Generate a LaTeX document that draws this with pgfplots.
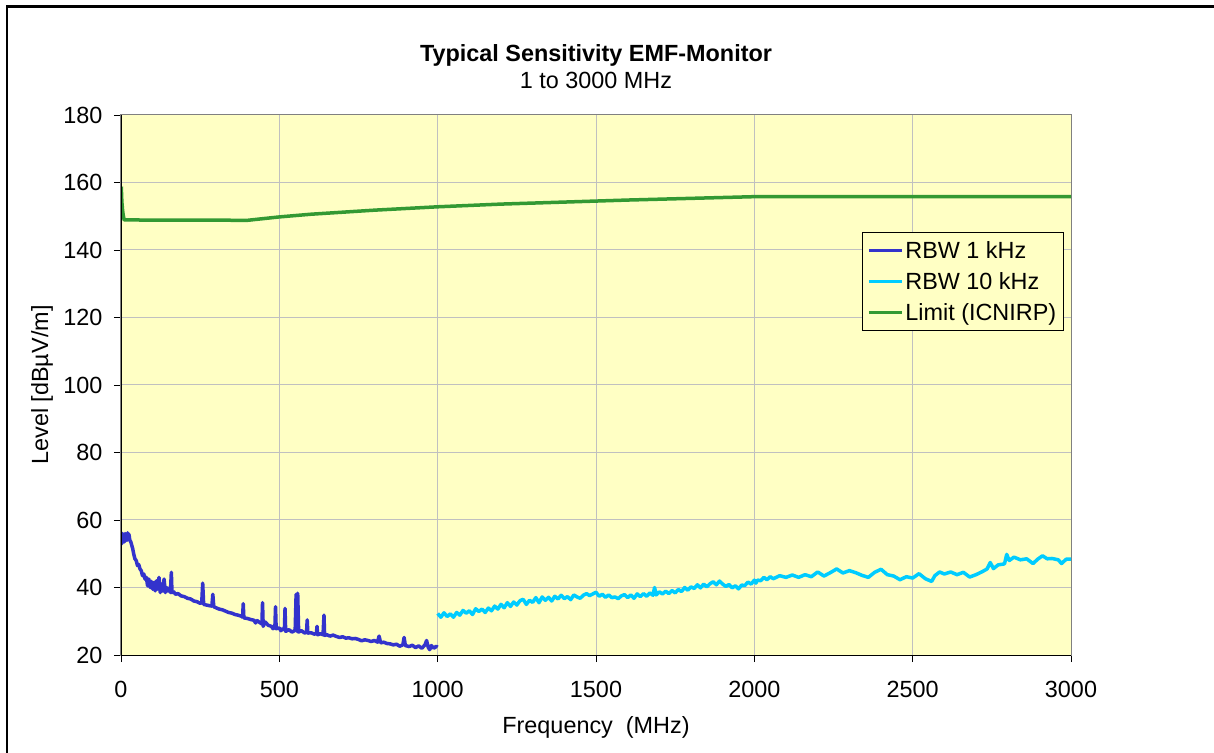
\documentclass[border=0pt]{standalone}
\usepackage{pgfplots}
\pgfplotsset{compat=1.18}
\usepackage{fontspec}
\setmainfont{Liberation Sans}
\definecolor{bgyellow}{RGB}{255,255,196}
\definecolor{cblue}{RGB}{51,51,204}
\definecolor{ccyan}{RGB}{0,204,255}
\definecolor{cgreen}{RGB}{51,153,51}
\definecolor{gridgray}{RGB}{192,192,192}
\begin{document}
\begin{tikzpicture}[font=\fontsize{23.4bp}{28bp}\selectfont]
\begin{axis}[
  name=ax,
  width=950bp, height=540bp, scale only axis,
  xmin=0, xmax=3000, ymin=20, ymax=180,
  xtick={0,500,...,3000}, ytick={20,40,...,180},
  /pgf/number format/assume math mode=true,
  /pgf/number format/set thousands separator={},
  tick pos=left, tick align=outside,
  major tick length=7bp,
  tick style={black, line width=0.8bp},
  xticklabel style={yshift=-16bp},
  yticklabel style={xshift=-8bp},
  grid=major,
  major grid style={gridgray, line width=1bp},
  axis background/.style={fill=bgyellow},
  axis line style={draw=gray, line width=1bp},
  every axis y label/.style={at={(axis description cs:-0.0832,0.5)}, rotate=90, anchor=center},
  every axis x label/.style={at={(axis description cs:0.5,-0.135)}, anchor=center},
  xlabel={Frequency\ \ (MHz)},
  ylabel={Level [dBµV/m]},
  legend cell align=left,
  legend style={at={(axis description cs:0.78,0.783)}, anchor=north west,
    fill=bgyellow, draw=black, line width=0.8bp, inner xsep=5bp, inner ysep=7bp, row sep=8.5bp,
    font=\fontsize{23.4bp}{28bp}\selectfont},
  legend image code/.code={\draw[#1, line width=3bp] (0bp,0bp) -- (33bp,0bp);},
]
\addplot[cblue, line width=3.5bp, line join=round] coordinates {
(1,55.5)(3,53.0)(5,56.0)(7,54.0)(9,55.5)(11,53.5)(13,56.0)(15,54.5)(17,55.8)(19,54.0)
(21,56.2)(23,55.0)(25,55.8)(28,54.0)(31,53.5)(34,52.5)(37,51.5)(40,50.0)(44,48.5)(48,48.0)
(52,46.5)(56,46.8)(60,45.5)(64,45.0)(68,43.5)(72,44.0)(76,42.5)(80,43.0)(84,40.5)(88,42.5)
(92,40.0)(96,41.8)(100,39.5)(104,41.5)(108,39.0)(112,42.0)(116,39.5)(120,43.0)(124,38.5)(128,41.0)
(132,39.0)(136,42.5)(140,38.5)(144,40.0)(148,39.0)(152,39.8)(156,38.5)(159,44.5)(161,38.5)(166,38.8)
(172,38.0)(180,38.2)(190,37.5)(200,37.3)(210,36.8)(220,36.6)(230,36.0)(240,35.8)(250,35.3)(255,35.5)
(258,41.3)(261,35.0)(270,34.8)(280,34.6)(287,34.5)(290,38.0)(293,34.3)(300,34.0)(310,33.6)(320,33.4)
(330,33.0)(340,32.6)(350,32.4)(360,32.0)(370,31.8)(380,31.5)(384,31.2)(386,35.2)(388,31.0)(400,30.8)
(410,30.5)(420,30.3)(425,29.5)(430,30.2)(440,29.5)(445,29.2)(447,35.5)(449,28.5)(455,29.8)(465,28.8)
(475,28.5)(480,27.8)(486,28.3)(488,34.3)(490,27.8)(500,28.0)(505,27.2)(510,27.8)(516,27.5)(518,33.8)
(520,27.0)(530,27.5)(540,26.8)(550,27.3)(553,38.0)(556,27.0)(558,38.3)(561,26.8)(570,27.2)(580,26.5)
(586,26.8)(588,30.4)(590,26.5)(600,26.6)(610,26.2)(617,26.3)(619,28.5)(621,26.0)(630,26.3)(638,26.0)
(641,31.8)(643,25.8)(650,26.0)(660,25.6)(670,25.9)(680,25.5)(690,25.2)(700,25.4)(710,25.0)(720,25.1)
(730,24.8)(740,24.9)(750,24.6)(760,24.2)(770,24.5)(780,24.3)(790,24.0)(800,24.3)(810,23.8)(815,25.6)
(820,23.6)(830,23.8)(840,23.4)(850,23.3)(860,23.0)(870,23.2)(880,22.6)(890,23.0)(894,25.2)(898,22.8)
(910,22.5)(920,22.9)(930,22.2)(940,22.7)(950,22.0)(960,23.0)(965,24.3)(970,22.3)(975,21.6)(980,22.8)
(988,22.0)(995,22.6)(1000,22.3)
};
\addlegendentry{RBW 1 kHz}
\addplot[ccyan, line width=3.5bp, line join=round] coordinates {
(1000,32.3)(1010,31.2)(1020,32.5)(1030,31.4)(1040,32.2)(1050,31.2)(1060,32.6)(1070,31.8)(1080,33.2)(1090,32.4)
(1100,33.1)(1110,32.0)(1120,33.7)(1130,32.9)(1140,33.6)(1150,32.6)(1160,33.9)(1170,33.1)(1180,34.5)(1190,33.6)
(1200,35.0)(1210,34.0)(1220,35.5)(1230,34.4)(1240,35.7)(1250,34.8)(1260,36.1)(1270,36.5)(1280,35.0)(1290,36.2)
(1300,35.6)(1310,37.0)(1320,35.5)(1330,37.2)(1340,36.2)(1350,37.1)(1360,36.0)(1370,37.4)(1380,36.6)(1390,37.7)
(1400,36.7)(1410,37.3)(1420,36.4)(1430,37.8)(1440,37.2)(1450,36.8)(1460,37.7)(1470,38.2)(1480,37.6)(1490,38.1)
(1500,38.6)(1510,37.4)(1520,38.0)(1530,37.1)(1540,37.8)(1550,37.0)(1560,37.2)(1570,36.7)(1580,37.5)(1590,37.9)
(1600,37.0)(1610,37.8)(1620,36.8)(1630,38.1)(1640,37.3)(1650,38.2)(1660,37.4)(1670,38.4)(1680,37.7)(1685,40.0)
(1690,37.8)(1700,38.7)(1710,38.1)(1720,38.9)(1730,38.2)(1740,39.1)(1750,38.4)(1760,39.4)(1770,38.8)(1780,40.0)
(1790,39.2)(1800,40.2)(1810,39.7)(1820,40.8)(1830,39.9)(1840,41.0)(1850,40.2)(1860,41.1)(1870,41.7)(1880,40.8)
(1890,41.9)(1900,41.0)(1910,40.3)(1920,40.9)(1930,39.9)(1940,40.5)(1950,39.6)(1960,40.7)(1970,40.6)(1980,41.6)
(1990,41.0)(2000,42.2)(2005,41.3)(2010,42.2)(2020,42.0)(2030,43.0)(2040,42.3)(2050,43.2)(2060,42.6)(2080,43.5)
(2100,43.0)(2120,43.7)(2140,43.0)(2160,43.8)(2180,43.2)(2200,44.6)(2220,43.4)(2240,44.4)(2260,45.5)(2280,44.3)
(2300,45.0)(2320,44.4)(2340,43.6)(2360,43.0)(2380,44.5)(2400,45.4)(2420,43.8)(2440,43.4)(2460,42.3)(2480,43.2)
(2500,42.8)(2520,44.1)(2540,42.6)(2560,41.8)(2570,43.5)(2585,44.6)(2600,44.0)(2620,44.6)(2640,43.8)(2660,44.5)
(2680,43.1)(2700,43.8)(2720,44.7)(2735,45.5)(2745,47.4)(2755,45.6)(2770,46.7)(2790,47.0)(2797,49.8)(2805,48.0)
(2820,49.0)(2840,48.2)(2860,48.5)(2880,47.1)(2895,48.4)(2910,49.4)(2925,48.5)(2940,48.6)(2960,48.2)(2970,47.1)
(2985,48.4)(3000,48.4)
};
\addlegendentry{RBW 10 kHz}
\addplot[cgreen, line width=3.5bp, line join=round] coordinates {
(1,158.8)(2,155.8)(3,154.0)(5,151.8)(7,150.3)(10,148.9)(400,148.8)(500,149.8)(600,150.6)(700,151.2)
(800,151.8)(900,152.3)(1000,152.8)(1200,153.6)(1400,154.2)(1600,154.8)(1800,155.3)(2000,155.8)(3000,155.8)
};
\addlegendentry{Limit (ICNIRP)}
\end{axis}
\draw[black, line width=1bp] (ax.north west) -- (ax.south west) -- (ax.south east);
\node[anchor=base, font=\fontsize{23.4bp}{28bp}\selectfont\bfseries] at ([yshift=53bp]ax.north) {Typical Sensitivity EMF-Monitor};
\node[anchor=base] at ([yshift=26bp]ax.north) {1 to 3000 MHz};
\pgfresetboundingbox
\useasboundingbox ([xshift=-121bp,yshift=-98bp]ax.south west) rectangle ([xshift=143bp,yshift=115bp]ax.north east);
\draw[black, line width=2.5bp] ([xshift=-114bp,yshift=-120bp]ax.south west) -- ([xshift=-114bp,yshift=108.5bp]ax.north west) -- ([xshift=160bp,yshift=108.5bp]ax.north east);
\end{tikzpicture}
\end{document}
